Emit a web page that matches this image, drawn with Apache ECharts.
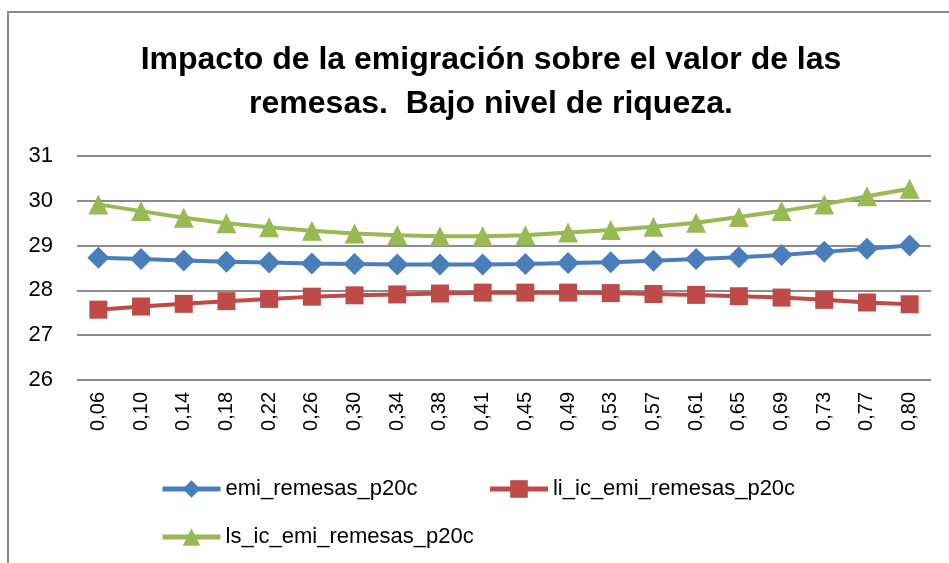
<!DOCTYPE html>
<html>
<head>
<meta charset="utf-8">
<script src="https://cdn.jsdelivr.net/npm/echarts@6/dist/echarts.min.js"></script>
<style>
  html, body { margin: 0; padding: 0; background: #fff; }
  #main { width: 949px; height: 563px; }
</style>
</head>
<body>
<div id="main"></div>
<script>
// datos
var categorias = ['0,06','0,10','0,14','0,18','0,22','0,26','0,30','0,34','0,38','0,41',
                  '0,45','0,49','0,53','0,57','0,61','0,65','0,69','0,73','0,77','0,80'];
var emiRemesas = [28.73, 28.70, 28.67, 28.64, 28.62, 28.60, 28.59, 28.58, 28.58, 28.58,
                  28.59, 28.61, 28.63, 28.66, 28.70, 28.74, 28.79, 28.86, 28.93, 29.00];
var liRemesas  = [27.57, 27.64, 27.70, 27.76, 27.81, 27.86, 27.89, 27.91, 27.93, 27.95,
                  27.95, 27.95, 27.94, 27.92, 27.90, 27.87, 27.84, 27.79, 27.73, 27.69];
var lsRemesas  = [29.92, 29.77, 29.62, 29.50, 29.41, 29.33, 29.27, 29.23, 29.21, 29.21,
                  29.23, 29.29, 29.35, 29.42, 29.51, 29.64, 29.77, 29.92, 30.10, 30.27];
var ticksY = [26, 27, 28, 29, 30, 31];

var fuente = "'Liberation Sans', Arial, sans-serif";
var chart = echarts.init(document.getElementById('main'));

function serie(nombre, datos, color, simbolo, tam) {
  return {
    name: nombre, type: 'line', data: datos,
    symbol: simbolo, symbolSize: tam,
    lineStyle: { color: color, width: 4 },
    itemStyle: { color: color },
    animation: false
  };
}

var leyendaTexto = { fontFamily: fuente, fontSize: 22, color: '#000' };

chart.setOption({
  backgroundColor: '#fff',
  title: {
    text: 'Impacto de la emigración sobre el valor de las\nremesas.  Bajo nivel de riqueza.',
    left: 486, top: 33, textAlign: 'center',
    textStyle: { fontFamily: fuente, fontSize: 32, fontWeight: 'bold', color: '#000', lineHeight: 44 }
  },
  graphic: [{
    type: 'rect', shape: { x: 8, y: 12, width: 960, height: 600 },
    style: { fill: 'none', stroke: '#8a8a8a', lineWidth: 2 }, silent: true
  }],
  legend: [{
    data: ['emi_remesas_p20c', 'li_ic_emi_remesas_p20c'],
    left: 155, top: 473, itemWidth: 58, itemHeight: 22, itemGap: 70,
    lineStyle: { width: 5 },
    textStyle: leyendaTexto
  }, {
    data: ['ls_ic_emi_remesas_p20c'],
    left: 155, top: 521, itemWidth: 58, itemHeight: 22,
    lineStyle: { width: 5 },
    textStyle: leyendaTexto
  }],
  grid: { left: 77, right: 18, top: 156, bottom: 183 },
  xAxis: {
    type: 'category', data: categorias, boundaryGap: true,
    axisLine: { show: false }, axisTick: { show: false },
    axisLabel: { rotate: 90, margin: 12, fontFamily: fuente, fontSize: 20, color: '#000', interval: 0 }
  },
  yAxis: {
    type: 'value', min: ticksY[0], max: ticksY[ticksY.length - 1], interval: 1,
    axisLine: { show: false }, axisTick: { show: false },
    axisLabel: { margin: 24, fontFamily: fuente, fontSize: 22, color: '#000' },
    splitLine: { lineStyle: { color: '#8c8c8c', width: 2 } }
  },
  series: [
    serie('emi_remesas_p20c', emiRemesas, '#4a7ebb', 'diamond', 22),
    serie('li_ic_emi_remesas_p20c', liRemesas, '#be4b48', 'rect', 18),
    serie('ls_ic_emi_remesas_p20c', lsRemesas, '#98b954', 'triangle', 20)
  ]
});
</script>
</body>
</html>
